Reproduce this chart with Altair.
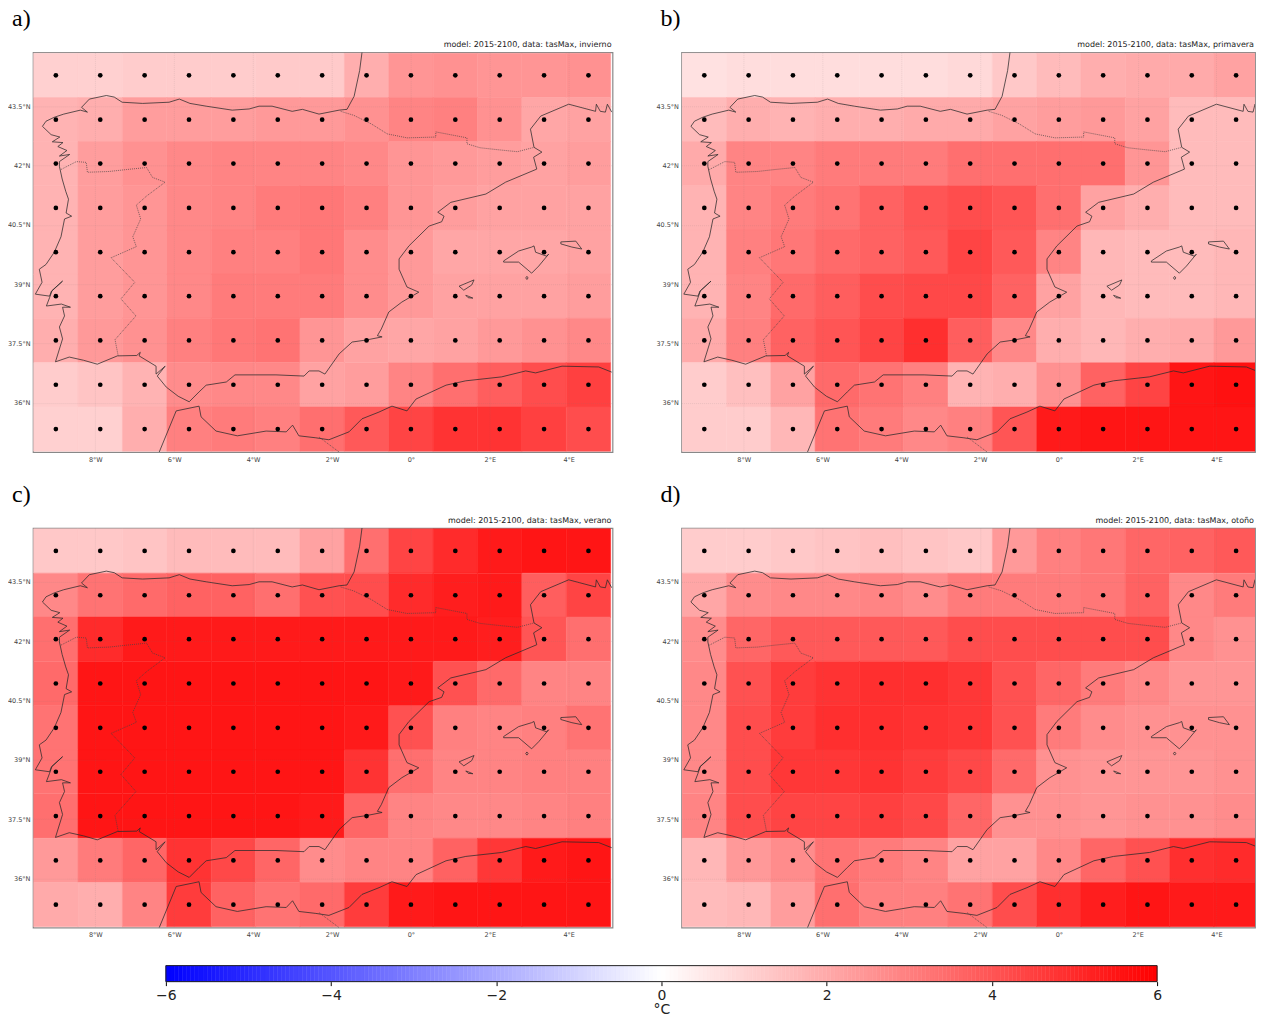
import altair as alt
import numpy as np
import pandas as pd

LON_CENTERS = [-9.0, -7.875, -6.75, -5.625, -4.5, -3.375, -2.25, -1.125, 0.0, 1.125, 2.25, 3.375, 4.5]
LAT_CENTERS = [44.28, 43.16, 42.05, 40.93, 39.81, 38.70, 37.58, 36.46, 35.34]
HALF_LON = 0.5625
HALF_LAT = 0.559

INVIERNO = [
    [1.1,1.1,1.2,1.2,1.2,1.25,1.25,1.9,2.5,2.6,2.5,2.5,2.6],
    [1.8,1.9,2.3,2.3,2.3,2.4,2.4,2.6,2.9,3.0,2.6,2.1,2.2],
    [1.8,2.3,2.6,2.8,2.9,2.9,2.9,2.8,2.5,2.4,2.3,2.2,2.3],
    [1.8,2.3,2.5,2.8,2.9,3.1,3.2,3.0,2.5,2.3,2.2,2.2,2.2],
    [1.8,2.3,2.5,2.8,3.0,3.0,3.2,2.7,2.4,2.1,2.1,2.1,2.2],
    [1.8,2.3,2.5,2.8,3.1,3.1,3.1,2.7,2.4,2.2,2.2,2.2,2.3],
    [1.9,2.4,2.6,3.0,3.2,3.3,2.5,2.2,2.1,2.2,2.4,2.6,2.8],
    [1.2,1.4,1.8,2.7,2.8,2.8,2.2,2.3,2.9,3.4,3.8,4.2,4.5],
    [1.1,1.1,1.9,3.0,3.1,3.0,3.4,3.9,4.4,4.8,4.8,4.5,4.2],
]
PRIMAVERA = [
    [0.7,0.8,0.8,0.8,0.8,0.8,0.9,1.3,1.6,1.9,2.0,2.0,2.2],
    [1.6,1.9,1.8,1.9,1.9,2.0,2.0,2.2,2.3,2.4,2.2,1.6,1.6],
    [2.0,2.9,2.9,3.1,3.1,3.1,3.4,3.4,3.4,3.4,2.5,1.6,1.6],
    [1.8,2.9,3.1,3.3,3.7,4.0,4.2,4.0,3.4,2.2,1.9,1.6,1.6],
    [1.8,3.0,3.2,3.5,3.7,3.9,4.4,3.9,2.9,1.7,1.6,1.6,1.7],
    [1.8,2.9,3.5,3.8,4.2,4.3,4.3,3.7,2.2,1.7,1.6,1.6,1.7],
    [2.0,3.0,3.7,4.0,4.4,4.9,3.8,2.8,1.9,1.7,1.9,2.0,2.4],
    [1.2,1.5,2.2,3.5,3.3,3.0,1.8,1.9,2.6,3.7,4.4,5.5,5.6],
    [1.2,1.2,1.7,3.3,3.1,2.8,3.0,4.0,5.4,5.5,5.5,5.5,5.5],
]
VERANO = [
    [1.3,1.3,1.4,1.6,1.6,1.6,2.2,3.4,4.4,5.0,5.4,5.5,5.5],
    [2.8,3.3,3.5,3.7,3.7,3.4,4.1,4.2,5.0,5.3,5.4,3.8,4.4],
    [3.4,5.0,5.4,5.4,5.4,5.4,5.4,5.4,5.4,5.4,5.3,4.0,3.4],
    [3.5,5.5,5.5,5.5,5.5,5.5,5.5,5.5,5.4,4.1,3.5,2.9,2.9],
    [3.3,5.5,5.5,5.5,5.5,5.5,5.5,5.4,4.1,3.0,2.9,3.0,3.3],
    [3.3,5.5,5.5,5.5,5.5,5.5,5.5,4.8,3.4,2.9,2.9,3.0,3.0],
    [3.4,5.5,5.5,5.5,5.5,5.5,5.4,3.6,2.9,2.8,2.8,2.9,3.0],
    [2.4,3.1,3.6,4.8,4.3,3.6,2.7,2.9,2.9,3.7,4.7,5.4,5.5],
    [2.0,1.9,2.9,4.6,3.7,3.3,3.5,4.6,5.4,5.5,5.5,5.5,5.5],
]
OTONO = [
    [1.2,1.2,1.3,1.4,1.5,1.4,1.3,2.4,3.0,3.2,3.6,3.7,3.9],
    [2.1,2.7,2.8,2.8,2.9,2.7,3.1,3.1,3.1,3.2,3.7,2.8,3.1],
    [2.7,3.6,3.9,3.9,3.9,3.9,4.2,4.2,4.2,4.2,4.2,2.8,2.6],
    [2.8,4.1,4.6,4.8,4.9,4.9,4.7,4.1,3.6,3.1,2.8,2.5,2.5],
    [2.8,4.2,4.6,4.9,4.9,4.8,4.7,4.1,3.1,2.7,2.6,2.6,2.6],
    [2.8,4.2,4.7,4.7,4.8,4.6,4.3,3.5,2.6,2.5,2.5,2.5,2.6],
    [2.9,4.2,4.4,4.4,4.5,4.3,3.6,2.6,2.6,2.5,2.6,2.6,2.7],
    [1.7,2.4,2.7,3.3,3.1,2.9,2.2,2.2,2.8,3.6,4.1,4.9,5.0],
    [1.6,1.7,2.3,3.4,3.0,3.0,3.3,4.2,4.9,5.3,5.5,5.4,5.4],
]

COAST_IBERIA = [(-1.24,44.86),(-1.3,44.4),(-1.44,43.75),(-1.62,43.42),(-1.82,43.4),(-2.33,43.3),(-2.75,43.42),
    (-3.01,43.37),(-3.52,43.5),(-3.85,43.5),(-4.1,43.43),(-4.53,43.4),(-5.19,43.5),(-5.6,43.57),(-5.87,43.68),(-6.13,43.6),
    (-6.8,43.57),(-7.32,43.6),(-7.52,43.73),(-7.72,43.77),(-8.15,43.68),(-8.35,43.47),(-8.2,43.35),(-8.38,43.4),(-8.8,43.3),
    (-9.04,43.22),(-9.25,43.12),(-9.34,42.99),(-9.12,42.78),(-8.9,42.72),(-9.09,42.6),(-8.82,42.58),(-8.95,42.48),(-8.72,42.38),
    (-8.91,42.24),(-8.65,42.28),(-8.91,42.1),(-8.91,41.98),(-8.84,41.66),(-8.75,41.35),(-8.68,41.15),(-8.74,40.8),(-8.6,40.72),(-8.78,40.65),
    (-8.87,40.2),(-9.04,39.81),(-9.25,39.5),(-9.42,39.38),(-9.35,39.05),(-9.52,38.75),(-9.16,38.7),(-9.11,38.83),(-8.83,39.08),(-9.1,38.83),(-9.16,38.66),
    (-9.24,38.45),(-8.86,38.5),(-8.63,38.42),(-8.83,38.42),(-8.78,38.2),(-8.91,37.92),(-8.83,37.62),(-9.01,37.04),
    (-8.66,37.16),(-8.3,37.08),(-7.95,36.98),(-7.44,37.19),(-6.95,37.2),(-6.86,37.28),(-6.89,37.19),(-6.46,36.93),(-6.46,36.73),(-6.23,36.93),(-6.43,36.68),
    (-6.2,36.4),(-5.9,36.17),(-5.62,36.03),(-5.37,36.28),(-5.19,36.45),(-4.68,36.53),(-4.46,36.71),(-3.42,36.71),(-2.71,36.68),
    (-2.58,36.81),(-2.33,36.81),(-2.18,36.73),(-1.82,37.24),(-1.49,37.54),(-1.14,37.59),(-0.73,37.67),(-0.85,37.7),(-0.75,37.87),(-0.56,38.3),(-0.23,38.55),
    (0.2,38.8),(-0.1,38.93),(-0.3,39.38),(-0.3,39.64),(-0.05,39.97),(0.46,40.47),(0.78,40.58),(0.84,40.72),(0.68,40.82),(1.01,41.07),
    (1.9,41.28),(2.4,41.58),(3.19,41.91),(3.11,42.21),(3.32,42.34),(3.12,42.46),(3.03,42.92),(3.29,43.25),(4.0,43.55),
    (4.68,43.37),(4.7,43.55),(4.8,43.37),(4.93,43.35),(4.98,43.55),(5.09,43.35)]
COAST_AFRICA = [(-6.38,34.76),(-5.95,35.8),(-5.37,35.92),(-5.32,35.65),(-4.94,35.29),(-4.4,35.17),(-3.67,35.29),(-3.16,35.27),
    (-3.0,35.44),(-2.84,35.17),(-2.41,35.12),(-2.08,35.07),(-1.57,35.27),(-1.24,35.6),(-0.81,35.77),(-0.48,35.92),(-0.1,35.8),
    (0.13,36.1),(0.89,36.45),(1.39,36.56),(2.3,36.66),(2.91,36.81),(3.16,36.76),(3.83,36.93),(4.76,36.91),(5.09,36.78)]
MALLORCA = [(2.35,39.59),(2.73,39.84),(3.06,39.94),(3.12,39.97),(3.16,39.81),(3.44,39.71),(3.49,39.76),(3.24,39.46),(3.06,39.28),(2.73,39.56),(2.35,39.56),(2.35,39.59)]
MENORCA = [(3.8,40.07),(4.18,40.09),(4.33,39.89),(4.08,39.94),(3.8,40.02),(3.8,40.07)]
IBIZA = [(1.22,38.95),(1.6,39.11),(1.54,38.98),(1.34,38.85),(1.22,38.95)]
FORMENTERA = [(1.39,38.72),(1.45,38.66),(1.57,38.65),(1.45,38.7),(1.39,38.72)]
CABRERA = [(2.91,39.16),(2.94,39.2),(2.97,39.16),(2.94,39.12),(2.91,39.16)]
COAST_PARTS = [COAST_IBERIA, COAST_AFRICA, MALLORCA, MENORCA, IBIZA, FORMENTERA, CABRERA]

BORDER_PORTUGAL = [(-8.87,41.9),(-8.48,42.1),(-8.23,42.08),(-8.2,41.83),(-7.65,41.85),(-7.2,41.9),(-6.7,41.95),(-6.55,41.7),
    (-6.23,41.58),(-6.7,41.23),(-6.96,41.0),(-6.85,40.65),(-7.05,40.2),(-6.96,39.95),(-7.6,39.67),(-7.0,39.05),(-7.35,38.63),
    (-6.97,38.2),(-7.5,37.6),(-7.42,37.19)]
BORDER_FRANCE = [(-1.78,43.37),(-1.45,43.27),(-1.0,43.05),(-0.6,42.8),(-0.1,42.7),(0.63,42.72),(0.63,42.85),(1.42,42.7),(1.42,42.55),(1.75,42.45),
    (2.2,42.4),(2.7,42.35),(3.12,42.46)]
BORDER_ALGERIA = [(-2.33,35.14),(-1.82,34.76)]
BORDER_PARTS = [BORDER_PORTUGAL, BORDER_FRANCE, BORDER_ALGERIA]

X_TICKS = [-8, -6, -4, -2, 0, 2, 4]
Y_TICKS = [36, 37.5, 39, 40.5, 42, 43.5]
CBAR_TICKS = [-6, -4, -2, 0, 2, 4, 6]

DOM_X_LEFT = [-9.58, 5.11]
DOM_X_RIGHT = [-9.58, 4.98]
DOM_Y = [34.76, 44.86]
color_scale = alt.Scale(domain=[-6, 0, 6], range=["#0000ff", "#ffffff", "#ff0000"], interpolate="rgb")


def to_df(parts):
    rows = []
    for s, part in enumerate(parts):
        for i, (lo, la) in enumerate(part):
            rows.append({"lon": lo, "lat": la, "seg": s, "idx": i})
    return pd.DataFrame(rows)


coast_df = to_df(COAST_PARTS)
border_df = to_df(BORDER_PARTS)

x_lon_labels = "abs(datum.value) + '°' + (datum.value < 0 ? 'W' : datum.value > 0 ? 'E' : '')"
y_lat_labels = "datum.value + '°N'"


def panel(values, season, tag, w, dom_x):
    rows = []
    for r, la in enumerate(LAT_CENTERS):
        for c, lo in enumerate(LON_CENTERS):
            rows.append({"x0": lo - HALF_LON, "x1": lo + HALF_LON, "y0": la - HALF_LAT, "y1": la + HALF_LAT,
                         "lon": lo, "lat": la, "v": values[r][c]})
    df = pd.DataFrame(rows)
    xs = alt.Scale(domain=dom_x, nice=False, zero=False)
    ys = alt.Scale(domain=DOM_Y, nice=False, zero=False)
    xaxis = alt.Axis(values=X_TICKS, labelExpr=x_lon_labels, title=None, domain=False, ticks=False, grid=True,
                     gridColor="#777777", gridOpacity=0.18, gridDash=[1, 1], gridWidth=0.8, labelFontSize=6.5,
                     labelColor="#444444", labelPadding=4, labelFont="DejaVu Sans", zindex=1)
    yaxis = alt.Axis(values=Y_TICKS, labelExpr=y_lat_labels, title=None, domain=False, ticks=False, grid=True,
                     gridColor="#777777", gridOpacity=0.18, gridDash=[1, 1], gridWidth=0.8, labelFontSize=6.5,
                     labelColor="#444444", labelPadding=3, labelFont="DejaVu Sans", zindex=1)
    cells = alt.Chart(df).mark_rect(strokeWidth=0.5, clip=True).encode(
        x=alt.X("x0:Q", scale=xs, axis=xaxis), x2="x1:Q",
        y=alt.Y("y0:Q", scale=ys, axis=yaxis), y2="y1:Q",
        color=alt.Color("v:Q", scale=color_scale, legend=None),
        stroke=alt.Stroke("v:Q", scale=color_scale, legend=None),
    )
    coast = alt.Chart(coast_df).mark_line(color="#2b2b2b", strokeWidth=0.9, opacity=0.85, clip=True).encode(
        x=alt.X("lon:Q", scale=xs), y=alt.Y("lat:Q", scale=ys), detail="seg:N", order="idx:Q")
    border = alt.Chart(border_df).mark_line(color="#444444", strokeWidth=0.7, strokeDash=[1, 1], clip=True).encode(
        x=alt.X("lon:Q", scale=xs), y=alt.Y("lat:Q", scale=ys), detail="seg:N", order="idx:Q")
    dots = alt.Chart(df).mark_point(filled=True, color="black", opacity=1, size=22).encode(
        x=alt.X("lon:Q", scale=xs), y=alt.Y("lat:Q", scale=ys))
    label = alt.Chart(pd.DataFrame({"t": [tag]})).mark_text(
        font="Liberation Serif", fontSize=24, color="black", align="left", baseline="middle"
    ).encode(x=alt.value(-21), y=alt.value(-33), text="t:N")
    head = alt.Chart(pd.DataFrame({"t": [f"model: 2015-2100, data: tasMax, {season}"]})).mark_text(
        font="DejaVu Sans", fontSize=8, color="#222222", align="right", baseline="middle"
    ).encode(x=alt.value(w - 1), y=alt.value(-7), text="t:N")
    return alt.layer(cells, coast, border, dots, label, head).properties(width=w, height=400)


a = panel(INVIERNO, "invierno", "a)", 580, DOM_X_LEFT)
b = panel(PRIMAVERA, "primavera", "b)", 574, DOM_X_RIGHT)
c = panel(VERANO, "verano", "c)", 580, DOM_X_LEFT)
d = panel(OTONO, "otoño", "d)", 574, DOM_X_RIGHT)

edges = np.linspace(-6, 6, 241)
bar_df = pd.DataFrame({"x0": edges[:-1], "x1": edges[1:], "v": (edges[:-1] + edges[1:]) / 2})
cb_scale = alt.Scale(domain=[-6, 6], range=[133, 1125], nice=False, zero=False)
ramp = alt.Chart(bar_df).mark_rect(strokeWidth=0.5).encode(
    x=alt.X("x0:Q", scale=cb_scale, axis=alt.Axis(values=CBAR_TICKS, format="d", title="°C", domain=False, tickSize=4, tickColor="black",
                                                  labelFontSize=14, labelColor="#222222", labelFont="DejaVu Sans", labelPadding=3,
                                                  titleFontSize=14, titleFontWeight="normal", titleFont="DejaVu Sans",
                                                  titleColor="#222222", titlePadding=0, grid=False, labelFlush=False)),
    x2="x1:Q",
    color=alt.Color("v:Q", scale=color_scale, legend=None),
    stroke=alt.Stroke("v:Q", scale=color_scale, legend=None),
)
frame_df = pd.DataFrame({"x0": [-6], "x1": [6]})
frame = alt.Chart(frame_df).mark_rect(filled=False, stroke="#222222", strokeWidth=1).encode(
    x=alt.X("x0:Q", scale=cb_scale), x2="x1:Q")
cbar = alt.layer(ramp, frame).properties(width=1223, height=16, view=alt.ViewConfig(stroke=None))

grid = alt.concat(a, b, c, d, columns=2, spacing={"row": 76, "column": 69}, bounds="flush")
chart = alt.vconcat(grid, cbar, spacing=25).properties(
    padding={"left": -2, "top": -2, "right": 0, "bottom": -2}
).configure_view(stroke="#888888", strokeWidth=1.2)

chart.save("out.html", embed_options={"renderer": "svg", "actions": False})
